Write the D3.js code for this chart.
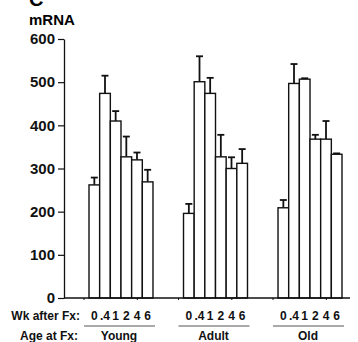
<!DOCTYPE html>
<html>
<head>
<meta charset="utf-8">
<script src="https://cdn.jsdelivr.net/npm/d3@7"></script>
<style>
  html, body { margin: 0; padding: 0; background: #fff; }
  svg { display: block; font-family: "Liberation Sans", Arial, Helvetica, sans-serif; }
</style>
</head>
<body>
<div id="chart"></div>
<script>
const groups = ["Young", "Adult", "Old"];
const weeks = ["0", ".4", "1", "2", "4", "6"];
const meanYoung = [262, 474, 410, 327, 320, 269];
const meanAdult = [196, 501, 474, 327, 300, 312];
const meanOld = [209, 497, 507, 368, 368, 333];
const semYoung = [17, 41, 23, 47, 17, 28];
const semAdult = [22, 59, 36, 51, 26, 33];
const semOld = [18, 45, 2, 10, 42, 2];
const yTicks = [0, 100, 200, 300, 400, 500, 600];

const means = { Young: meanYoung, Adult: meanAdult, Old: meanOld };
const sems = { Young: semYoung, Adult: semAdult, Old: semOld };

const width = 358, height = 342;
const svg = d3.select("#chart").append("svg")
  .attr("width", width).attr("height", height);

const y = d3.scaleLinear().domain([0, 600]).range([298, 39]);
const x0 = d3.scaleBand().domain(groups).range([89, 342]).paddingInner(0.323).paddingOuter(0);
const x1 = d3.scaleBand().domain(weeks).range([0, x0.bandwidth()]);

const bars = groups.flatMap(g => weeks.map((w, i) => ({
  group: g, week: w, value: means[g][i], sem: sems[g][i]
})));

// panel letter and unit
svg.append("text").attr("x", 29).attr("y", 6)
  .attr("font-size", 20).attr("font-weight", "bold").text("C");
svg.append("text").attr("x", 29).attr("y", 25)
  .attr("font-size", 15).attr("font-weight", "bold").text("mRNA");

// y axis
const yAxis = svg.append("g").attr("transform", "translate(64,0)")
  .call(d3.axisLeft(y).tickValues(yTicks).tickSize(6).tickPadding(3).tickSizeOuter(0));
yAxis.select(".domain").attr("stroke", "#111").attr("stroke-width", 1.3);
yAxis.selectAll(".tick line").attr("stroke", "#111").attr("stroke-width", 1.2);
yAxis.selectAll("text").attr("font-size", 15).attr("font-weight", "bold")
  .attr("fill", "#111").attr("font-family", "Liberation Sans, Arial, sans-serif");

// error bars (upward only)
const err = svg.append("g").attr("stroke", "#111").attr("stroke-width", 1.8);
bars.forEach(d => {
  const cx = x0(d.group) + x1(d.week) + x1.bandwidth() / 2;
  const top = y(d.value + d.sem);
  err.append("line").attr("x1", cx).attr("x2", cx)
    .attr("y1", y(d.value)).attr("y2", top);
  err.append("line").attr("x1", cx - 3.5).attr("x2", cx + 3.5)
    .attr("y1", top).attr("y2", top);
});

// bars
svg.append("g").selectAll("rect").data(bars).join("rect")
  .attr("x", d => x0(d.group) + x1(d.week))
  .attr("y", d => y(d.value))
  .attr("width", x1.bandwidth())
  .attr("height", d => y(0) - y(d.value))
  .attr("fill", "#fff")
  .attr("stroke", "#111")
  .attr("stroke-width", 1.4);

// baseline
svg.append("line").attr("x1", 64).attr("x2", 350)
  .attr("y1", y(0)).attr("y2", y(0))
  .attr("stroke", "#111").attr("stroke-width", 1.3);

// small ticks on baseline
const tickG = svg.append("g").attr("stroke", "#111").attr("stroke-width", 1);
groups.forEach(g => {
  [x0(g) - 5, x0(g) + x1("6") - 5].forEach(tx => {
    tickG.append("line").attr("x1", tx).attr("x2", tx)
      .attr("y1", y(0)).attr("y2", y(0) + 2);
  });
});

// bottom labels
const lab = svg.append("g").attr("font-weight", "bold").attr("fill", "#111").attr("font-size", 12);
lab.append("text").attr("x", 80).attr("y", 320).attr("text-anchor", "end").text("Wk after Fx:");
lab.append("text").attr("x", 78).attr("y", 340).attr("text-anchor", "end").text("Age at Fx:");
groups.forEach(g => {
  weeks.forEach(w => {
    lab.append("text")
      .attr("x", x0(g) + x1(w) + x1.bandwidth() / 2)
      .attr("y", 320).attr("text-anchor", "middle").text(w);
  });
  svg.append("line")
    .attr("x1", x0(g) - 5).attr("x2", x0(g) + x0.bandwidth() + 2)
    .attr("y1", 326).attr("y2", 326)
    .attr("stroke", "#555").attr("stroke-width", 1);
  lab.append("text").attr("x", x0(g) + x0.bandwidth() / 2 - 2)
    .attr("y", 340).attr("text-anchor", "middle").text(g);
});
</script>
</body>
</html>
